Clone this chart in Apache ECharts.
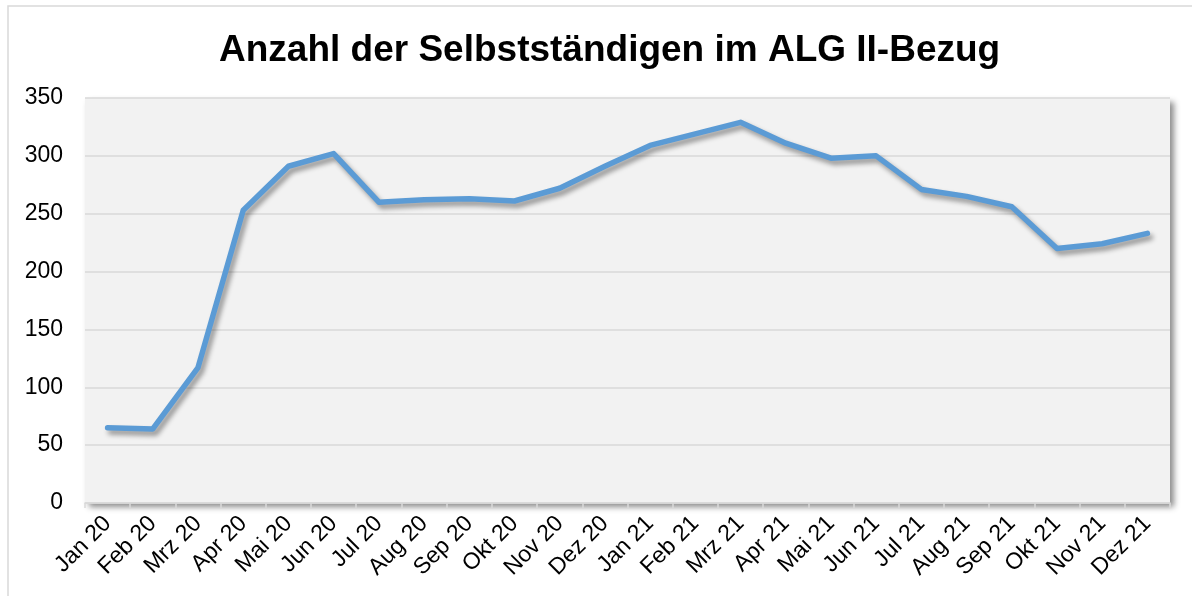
<!DOCTYPE html>
<html>
<head>
<meta charset="utf-8">
<script src="https://cdn.jsdelivr.net/npm/echarts@6/dist/echarts.min.js"></script>
<style>
html,body{margin:0;padding:0;background:#fff;}
#c{width:1192px;height:596px;}
</style>
</head>
<body>
<div id="c"></div>
<script>
const titleText = 'Anzahl der Selbstständigen im ALG II-Bezug';
const categories = ['Jan 20','Feb 20','Mrz 20','Apr 20','Mai 20','Jun 20','Jul 20','Aug 20','Sep 20','Okt 20','Nov 20','Dez 20',
  'Jan 21','Feb 21','Mrz 21','Apr 21','Mai 21','Jun 21','Jul 21','Aug 21','Sep 21','Okt 21','Nov 21','Dez 21'];
const values = [65, 64, 117, 253, 291, 302, 260, 262, 263, 261, 272, 291,
  309, 319, 329, 311, 298, 300, 271, 265, 256, 220, 224, 233];
const yMin = 0, yMax = 350, yStep = 50;

const chart = echarts.init(document.getElementById('c'), null, {renderer: 'canvas'});
chart.setOption({
  animation: false,
  backgroundColor: '#ffffff',
  graphic: [{
    type: 'rect', z: -10, silent: true,
    shape: {x: 8, y: 6, width: 1300, height: 700},
    style: {fill: 'none', stroke: '#d9d9d9', lineWidth: 1.5}
  }],
  title: {
    text: titleText, left: 214, top: 27,
    textStyle: {fontFamily: 'Liberation Sans, Arial, sans-serif', fontWeight: 'bold', fontSize: 37, color: '#000'}
  },
  grid: {
    left: 85, right: 22, top: 98, bottom: 93,
    show: true, backgroundColor: '#f2f2f2', borderWidth: 0,
    shadowColor: 'rgba(0,0,0,0.45)', shadowBlur: 6, shadowOffsetX: 4, shadowOffsetY: 4
  },
  xAxis: {
    type: 'category', data: categories, boundaryGap: true,
    axisLine: {show: true, lineStyle: {color: '#d9d9d9', width: 1.5}},
    axisTick: {show: true, length: 5, lineStyle: {color: '#d9d9d9', width: 1.5}, alignWithLabel: false},
    axisLabel: {
      interval: 0, rotate: 45, margin: 17, color: '#000',
      fontFamily: 'Liberation Sans, Arial, sans-serif', fontSize: 23
    },
    splitLine: {show: false}
  },
  yAxis: {
    type: 'value', min: yMin, max: yMax, interval: yStep,
    axisLine: {show: false}, axisTick: {show: false},
    axisLabel: {color: '#000', fontFamily: 'Liberation Sans, Arial, sans-serif', fontSize: 23, margin: 22},
    splitLine: {show: true, lineStyle: {color: '#d9d9d9', width: 1.5}}
  },
  series: [{
    type: 'line', data: values, symbol: 'none', smooth: false,
    lineStyle: {color: '#5b9bd5', width: 5.5, cap: 'round', join: 'round',
      shadowColor: 'rgba(0,0,0,0.4)', shadowBlur: 5, shadowOffsetX: 3, shadowOffsetY: 4}
  }]
});
</script>
</body>
</html>
